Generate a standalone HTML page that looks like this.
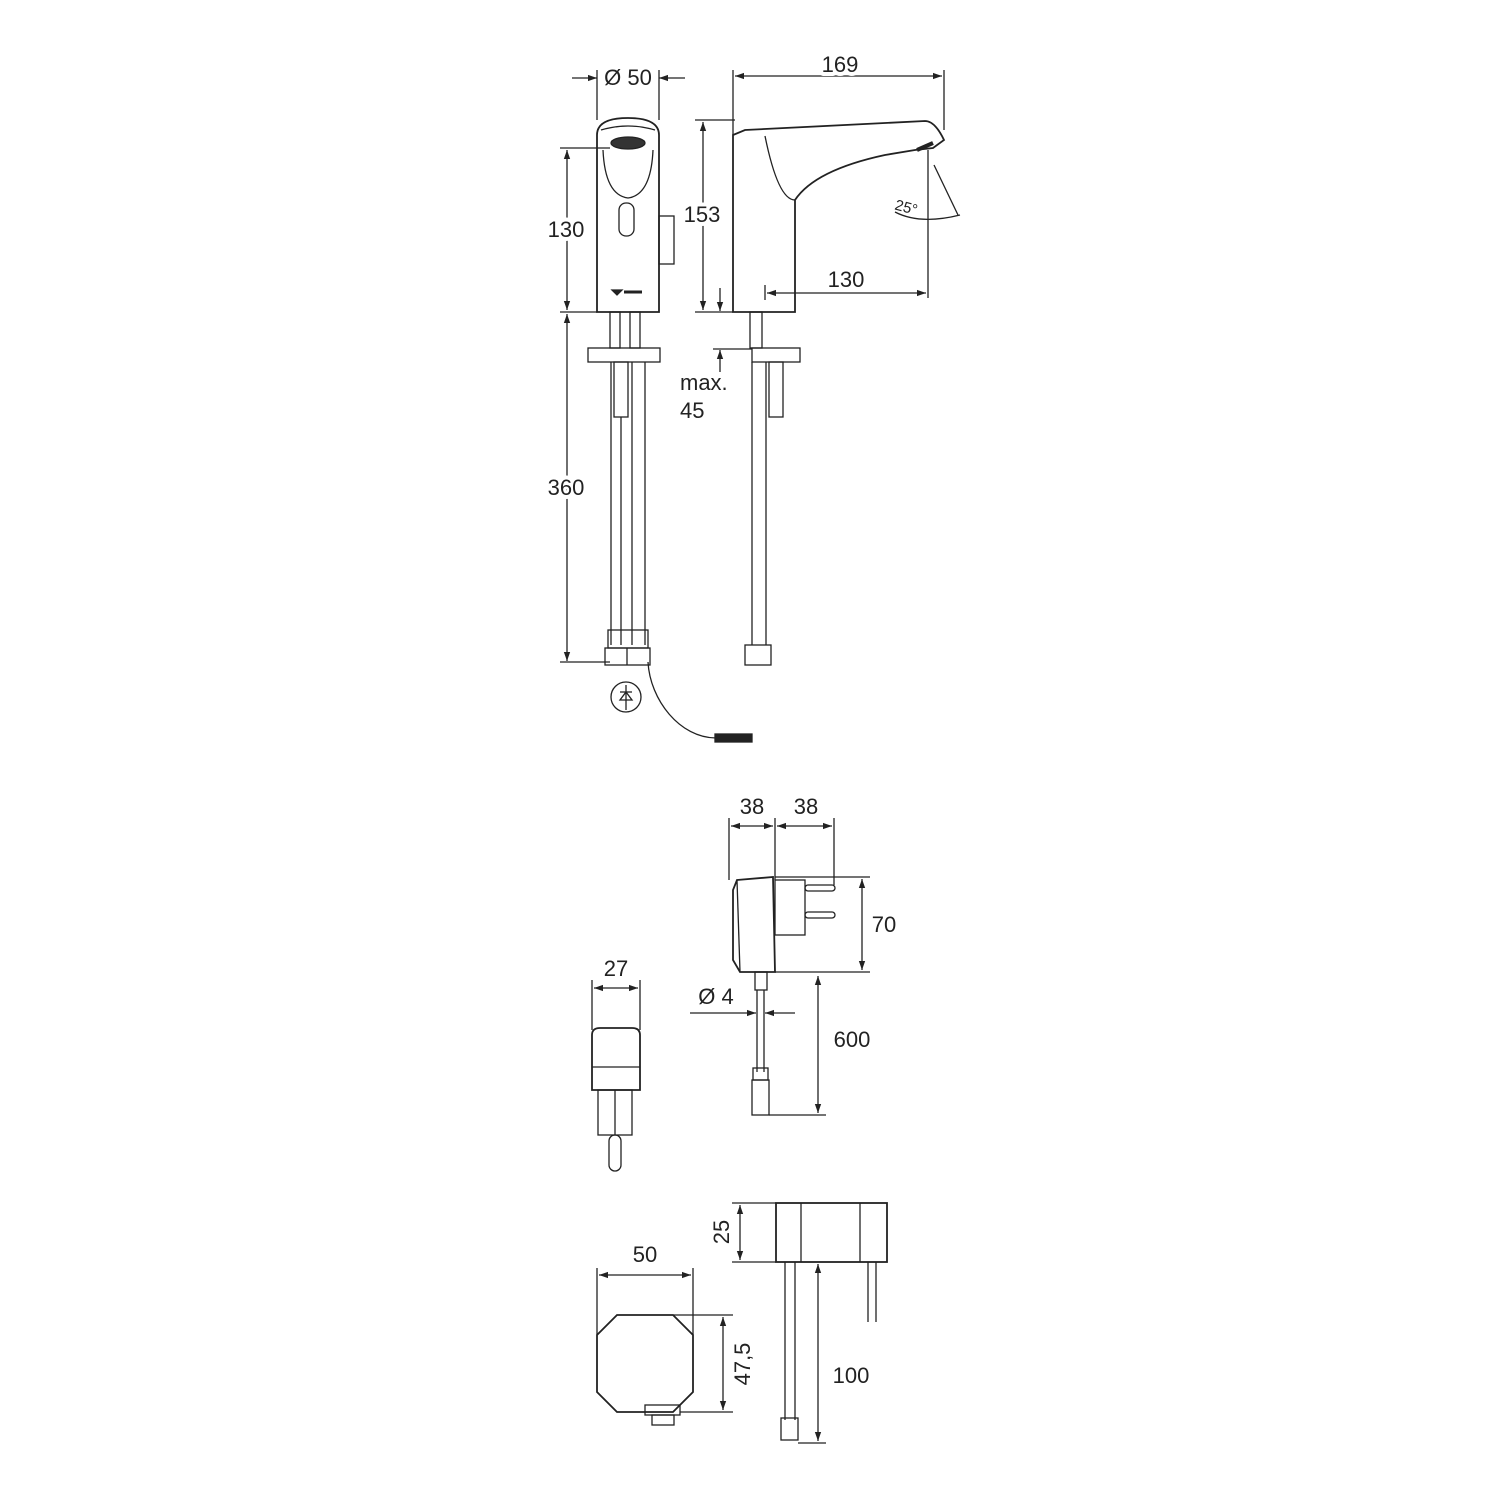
<!DOCTYPE html>
<html><head><meta charset="utf-8"><style>
html,body{margin:0;padding:0;background:#fff}
svg{display:block}
text{font-family:"Liberation Sans","DejaVu Sans",sans-serif;fill:#222;stroke:#fff;stroke-width:8px;paint-order:stroke;stroke-linejoin:round}
</style></head><body>
<svg width="1500" height="1500" viewBox="0 0 1500 1500" xmlns="http://www.w3.org/2000/svg">
<defs>
<marker id="a" viewBox="0 0 10 10" refX="10" refY="5" markerWidth="9" markerHeight="9" orient="auto-start-reverse" markerUnits="userSpaceOnUse"><path d="M0,1.5 L10,5 L0,8.5 Z" fill="#222"/></marker>
</defs>
<g fill="none" stroke="#222" stroke-width="1.3">
<line x1="597" y1="70" x2="597" y2="120"/><line x1="659" y1="70" x2="659" y2="120"/>
<line x1="572" y1="78" x2="597" y2="78" marker-end="url(#a)"/>
<line x1="685" y1="78" x2="659" y2="78" marker-end="url(#a)"/>
<path d="M597,312 L597,135 Q597,118 628,118 Q659,118 659,135 L659,312 Z" stroke-width="1.8"/>
<path d="M603,150 Q605,195 628,198 Q651,195 653,150"/>
<ellipse cx="628" cy="143" rx="17" ry="6" fill="#333"/>
<path d="M601,130 Q628,122 655,130"/>
<rect x="619" y="203" width="15" height="33" rx="7"/>
<rect x="659" y="216" width="15" height="48"/>
<path d="M612,290 l5,5 l5,-5 z" fill="#222"/><line x1="624" y1="292" x2="642" y2="292" stroke-width="3"/>
<line x1="560" y1="148" x2="610" y2="148"/>
<line x1="560" y1="312" x2="597" y2="312"/>
<line x1="567" y1="150" x2="567" y2="310" marker-start="url(#a)" marker-end="url(#a)"/>
<line x1="560" y1="662" x2="610" y2="662"/>
<line x1="567" y1="314" x2="567" y2="661" marker-start="url(#a)" marker-end="url(#a)"/>
<rect x="610" y="312" width="10" height="36"/><rect x="630" y="312" width="10" height="36"/>
<rect x="588" y="348" width="72" height="14"/>
<rect x="614" y="362" width="14" height="55"/>
<line x1="621" y1="417" x2="621" y2="645"/><line x1="611" y1="362" x2="611" y2="645"/>
<line x1="632" y1="362" x2="632" y2="645"/><line x1="645" y1="362" x2="645" y2="645"/>
<rect x="608" y="630" width="40" height="18"/>
<rect x="605" y="648" width="45" height="17"/>
<line x1="627" y1="648" x2="627" y2="665"/>
<path d="M648,662 C650,700 680,738 716,738"/>
<rect x="715" y="734" width="37" height="8" fill="#222"/>
<circle cx="626" cy="697" r="15"/>
<line x1="626" y1="685" x2="626" y2="710"/><path d="M620,700 l12,0 l-6,-8 z"/><line x1="620" y1="692" x2="632" y2="692"/>
<line x1="733" y1="70" x2="733" y2="135"/><line x1="944" y1="70" x2="944" y2="130"/>
<line x1="735" y1="76" x2="942" y2="76" marker-start="url(#a)" marker-end="url(#a)"/>
<path d="M733,312 L733,135 L745,130 L925,121 Q935,121 944,140 L933,148 L915,150 L885,155 Q815,170 795,200 L795,312 Z" stroke-width="1.8"/>
<path d="M765,136 Q778,200 795,200"/>
<line x1="917" y1="150" x2="933" y2="143" stroke-width="4"/>
<line x1="695" y1="120" x2="735" y2="120"/>
<line x1="695" y1="312" x2="733" y2="312"/>
<line x1="703" y1="122" x2="703" y2="310" marker-start="url(#a)" marker-end="url(#a)"/>
<line x1="928" y1="150" x2="928" y2="298"/>
<line x1="765" y1="285" x2="765" y2="300"/>
<line x1="767" y1="293" x2="926" y2="293" marker-start="url(#a)" marker-end="url(#a)"/>
<path d="M895,212 Q920,225 960,215"/><line x1="934" y1="165" x2="958" y2="215"/>
<line x1="720" y1="288" x2="720" y2="311" marker-end="url(#a)"/>
<line x1="720" y1="372" x2="720" y2="350" marker-end="url(#a)"/>
<line x1="713" y1="349" x2="752" y2="349"/>
<rect x="750" y="312" width="12" height="36"/>
<rect x="752" y="348" width="48" height="14"/>
<rect x="769" y="362" width="14" height="55"/>
<line x1="752" y1="362" x2="752" y2="645"/><line x1="766" y1="362" x2="766" y2="645"/>
<rect x="745" y="645" width="26" height="20"/>
<line x1="729" y1="818" x2="729" y2="880"/><line x1="775" y1="818" x2="775" y2="880"/><line x1="834" y1="818" x2="834" y2="885"/>
<line x1="731" y1="826" x2="773" y2="826" marker-start="url(#a)" marker-end="url(#a)"/>
<line x1="777" y1="826" x2="832" y2="826" marker-start="url(#a)" marker-end="url(#a)"/>
<path d="M737,880 L773,877 L775,972 L740,972 L733,960 L733,890 Z" stroke-width="1.8"/>
<line x1="737" y1="880" x2="740" y2="972"/>
<rect x="775" y="880" width="30" height="55"/>
<rect x="805" y="885" width="30" height="6" rx="3"/><rect x="805" y="912" width="30" height="6" rx="3"/>
<line x1="775" y1="877" x2="870" y2="877"/><line x1="775" y1="972" x2="870" y2="972"/>
<line x1="862" y1="879" x2="862" y2="970" marker-start="url(#a)" marker-end="url(#a)"/>
<rect x="755" y="972" width="12" height="18"/>
<line x1="757" y1="990" x2="757" y2="1072"/><line x1="764" y1="990" x2="764" y2="1072"/>
<rect x="753" y="1068" width="15" height="12"/><rect x="752" y="1080" width="17" height="35"/>
<line x1="769" y1="1115" x2="826" y2="1115"/>
<line x1="818" y1="976" x2="818" y2="1113" marker-start="url(#a)" marker-end="url(#a)"/>
<line x1="690" y1="1013" x2="756" y2="1013" marker-end="url(#a)"/>
<line x1="795" y1="1013" x2="765" y2="1013" marker-end="url(#a)"/>
<line x1="592" y1="980" x2="592" y2="1030"/><line x1="640" y1="980" x2="640" y2="1030"/>
<line x1="594" y1="988" x2="638" y2="988" marker-start="url(#a)" marker-end="url(#a)"/>
<path d="M592,1090 L592,1035 Q592,1028 600,1028 L632,1028 Q640,1028 640,1035 L640,1090 Z" stroke-width="1.8"/>
<line x1="592" y1="1067" x2="640" y2="1067"/>
<rect x="598" y="1090" width="34" height="45"/><line x1="615" y1="1090" x2="615" y2="1135"/>
<rect x="609" y="1135" width="12" height="36" rx="6"/>
<rect x="776" y="1203" width="111" height="59" stroke-width="1.8"/>
<line x1="801" y1="1203" x2="801" y2="1262"/><line x1="860" y1="1203" x2="860" y2="1262"/>
<line x1="732" y1="1203" x2="776" y2="1203"/><line x1="732" y1="1262" x2="776" y2="1262"/>
<line x1="740" y1="1205" x2="740" y2="1260" marker-start="url(#a)" marker-end="url(#a)"/>
<line x1="785" y1="1262" x2="785" y2="1420"/><line x1="795" y1="1262" x2="795" y2="1420"/>
<rect x="781" y="1418" width="17" height="22"/>
<line x1="868" y1="1262" x2="868" y2="1322"/><line x1="876" y1="1262" x2="876" y2="1322"/>
<line x1="798" y1="1443" x2="826" y2="1443"/>
<line x1="818" y1="1264" x2="818" y2="1441" marker-start="url(#a)" marker-end="url(#a)"/>
<line x1="597" y1="1268" x2="597" y2="1335"/><line x1="693" y1="1268" x2="693" y2="1335"/>
<line x1="599" y1="1275" x2="691" y2="1275" marker-start="url(#a)" marker-end="url(#a)"/>
<path d="M617,1315 L673,1315 L693,1335 L693,1392 L673,1412 L617,1412 L597,1392 L597,1335 Z" stroke-width="1.8"/>
<rect x="645" y="1405" width="35" height="10"/><rect x="652" y="1415" width="22" height="10"/>
<line x1="673" y1="1315" x2="733" y2="1315"/><line x1="680" y1="1412" x2="733" y2="1412"/>
<line x1="723" y1="1317" x2="723" y2="1410" marker-start="url(#a)" marker-end="url(#a)"/>
</g>
<g font-size="22">
<text x="628" y="85" text-anchor="middle">Ø 50</text>
<text x="566" y="237" text-anchor="middle">130</text>
<text x="566" y="495" text-anchor="middle">360</text>
<text x="840" y="72" text-anchor="middle">169</text>
<text x="702" y="222" text-anchor="middle">153</text>
<text x="846" y="287" text-anchor="middle">130</text>
<text x="895" y="212" font-size="15" transform="rotate(15 905 207)" style="stroke-width:0">25°</text>
<text x="680" y="390">max.</text>
<text x="680" y="418">45</text>
<text x="752" y="814" text-anchor="middle">38</text>
<text x="806" y="814" text-anchor="middle">38</text>
<text x="884" y="932" text-anchor="middle">70</text>
<text x="852" y="1047" text-anchor="middle">600</text>
<text x="716" y="1004" text-anchor="middle">Ø 4</text>
<text x="616" y="976" text-anchor="middle">27</text>
<text x="645" y="1262" text-anchor="middle">50</text>
<text x="851" y="1383" text-anchor="middle">100</text>
<text x="0" y="0" text-anchor="middle" transform="translate(729 1232) rotate(-90)">25</text>
<text x="0" y="0" text-anchor="middle" transform="translate(750 1364) rotate(-90)">47,5</text>
</g>
</svg>
</body></html>
